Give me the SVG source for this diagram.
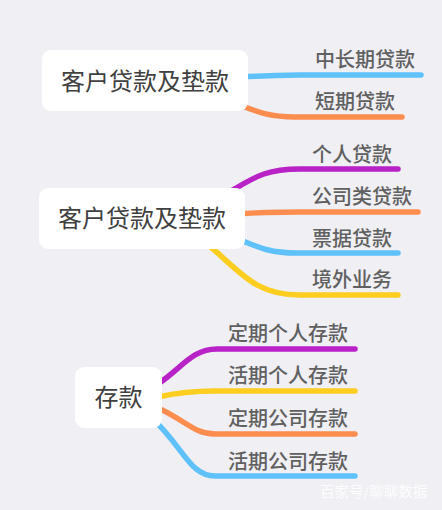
<svg xmlns="http://www.w3.org/2000/svg" width="442" height="510" viewBox="0 0 442 510">
<style>
.bg{fill:#efeff4}
.node rect{fill:#ffffff}
.node text{font-family:"Noto Sans CJK SC","Noto Sans",sans-serif;font-size:24px;fill:#404040;text-anchor:middle}
.lbl{font-family:"Noto Sans CJK SC","Noto Sans",sans-serif;font-size:20px;font-weight:500;fill:#606060}
.c{fill:none;stroke-width:5.5;stroke-linecap:round;stroke-linejoin:round}
.blue{stroke:#5ec1f9}
.orange{stroke:#fd8c4f}
.purple{stroke:#b822c6}
.yellow{stroke:#fdcd20}
.wm{font-family:"Noto Sans CJK SC",sans-serif;font-size:14.5px;fill:#ffffff;opacity:0.9}
</style>
<rect class="bg" x="0" y="0" width="442" height="510"/>
<g id="connectors">
<path class="c blue" d="M240,77 C260,76 275,75 300,75 L421,75"/>
<path class="c orange" d="M232,102 C258,112 268,117 295,117 L402,117"/>
<path class="c purple" d="M215,200 C252,180 260,169 300,169 L398,169"/>
<path class="c orange" d="M238,214 C262,212 280,212 300,212 L418,212"/>
<path class="c blue" d="M238,239 C262,249 272,253 297,253 L398,253"/>
<path class="c yellow" d="M198,236 C240,270 252,295 300,295 L398,295"/>
<path class="c purple" d="M158,384 C182,368 192,349 217,349 L355,349"/>
<path class="c yellow" d="M158,397 C180,392 195,391 215,391 L355,391"/>
<path class="c orange" d="M158,408 C185,420 194,434 215,434 L355,434"/>
<path class="c blue" d="M152,418 C184,448 190,476 215,476 L355,476"/>
</g>
<g id="node1" class="node">
<rect x="42" y="50" width="206" height="61" rx="9"/>
<text x="145" y="90">客户贷款及垫款</text>
</g>
<g id="node2" class="node">
<rect x="39" y="188" width="206" height="61" rx="9"/>
<text x="142" y="227">客户贷款及垫款</text>
</g>
<g id="node3" class="node">
<rect x="75" y="367" width="87" height="61" rx="9"/>
<text x="118.5" y="406">存款</text>
</g>
<g id="labels">
<text class="lbl" x="315" y="67">中长期贷款</text>
<text class="lbl" x="315" y="109">短期贷款</text>
<text class="lbl" x="312" y="162">个人贷款</text>
<text class="lbl" x="312" y="204">公司类贷款</text>
<text class="lbl" x="312" y="246">票据贷款</text>
<text class="lbl" x="312" y="287">境外业务</text>
<text class="lbl" x="228" y="341">定期个人存款</text>
<text class="lbl" x="228" y="383">活期个人存款</text>
<text class="lbl" x="228" y="426">定期公司存款</text>
<text class="lbl" x="228" y="469">活期公司存款</text>
</g>
<text class="wm" x="320" y="497">百家号/聊聊数据</text>
</svg>
